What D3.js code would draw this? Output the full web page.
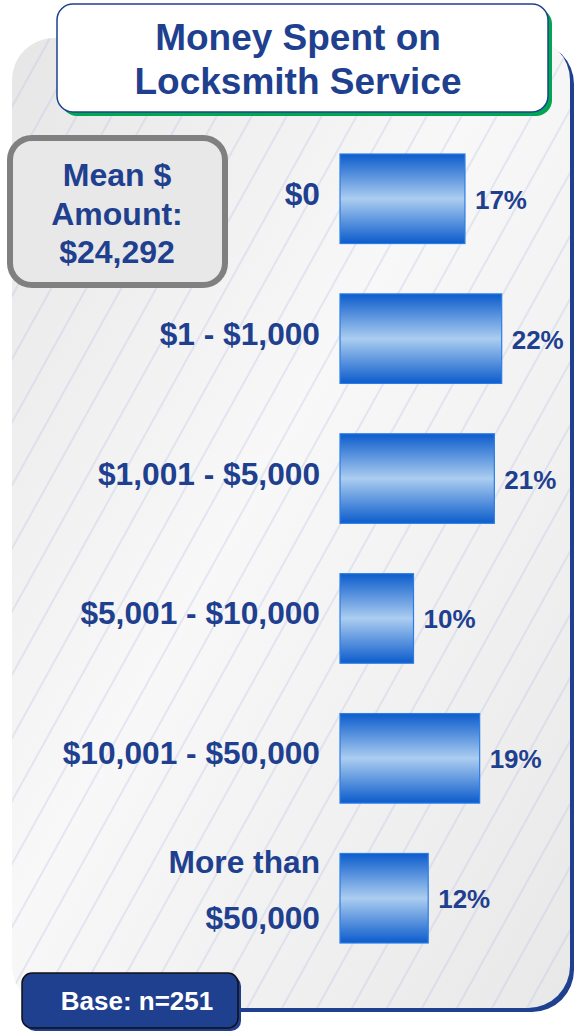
<!DOCTYPE html>
<html lang="en">

<head>
  <meta charset="utf-8">
  <script src='https://d3js.org/d3.v7.min.js'></script>
  <style>
    body { margin: 0; background: #ffffff; }
    text { font-family: "Liberation Sans", Arial, sans-serif; font-weight: bold; }
  </style>
</head>

<body>
  <script>

    // chart data
    var categories = ["$0", "$1 - $1,000", "$1,001 - $5,000", "$5,001 - $10,000", "$10,001 - $50,000", "More than $50,000"];
    var categoryLines = [["$0"], ["$1 - $1,000"], ["$1,001 - $5,000"], ["$5,001 - $10,000"], ["$10,001 - $50,000"], ["More than", "$50,000"]];
    var shares = [17, 22, 21, 10, 19, 12];
    var titleLines = ["Money Spent on", "Locksmith Service"];
    var meanLines = ["Mean $", "Amount:", "$24,292"];
    var baseLabel = "Base: n=251";

    var width = 577;
    var height = 1034;
    var navy = "#1f3f8f";

    var svg = d3.select("body")
      .append("svg")
      .attr("width", width)
      .attr("height", height);

    var defs = svg.append("defs");

    var panelGrad = defs.append("linearGradient")
      .attr("id", "panelGrad")
      .attr("x1", "0").attr("y1", "0")
      .attr("x2", "1").attr("y2", "1");
    panelGrad.append("stop").attr("offset", "0%").attr("stop-color", "#e6e6e6");
    panelGrad.append("stop").attr("offset", "45%").attr("stop-color", "#f8f8f8");
    panelGrad.append("stop").attr("offset", "100%").attr("stop-color", "#e8e8e8");

    var barGrad = defs.append("linearGradient")
      .attr("id", "barGrad")
      .attr("x1", "0").attr("y1", "0")
      .attr("x2", "0").attr("y2", "1");
    barGrad.append("stop").attr("offset", "0%").attr("stop-color", "#0c5ccc");
    barGrad.append("stop").attr("offset", "50%").attr("stop-color", "#abcdf0");
    barGrad.append("stop").attr("offset", "100%").attr("stop-color", "#0c5ccc");

    // diagonal hatching of the panel
    var hatch = defs.append("pattern")
      .attr("id", "hatch")
      .attr("patternUnits", "userSpaceOnUse")
      .attr("width", 30.6)
      .attr("height", 20)
      .attr("patternTransform", "rotate(29)");
    hatch.append("line")
      .attr("x1", 1).attr("y1", 0)
      .attr("x2", 1).attr("y2", 20)
      .attr("stroke", "#b3bde0")
      .attr("stroke-width", 0.6);

    // background panel
    svg.append("rect")
      .attr("x", 16).attr("y", 42)
      .attr("width", 558).attr("height", 970)
      .attr("rx", 42)
      .attr("fill", navy);
    svg.append("rect")
      .attr("x", 12).attr("y", 38)
      .attr("width", 558).attr("height", 970)
      .attr("rx", 42)
      .attr("fill", "url(#panelGrad)");
    svg.append("rect")
      .attr("x", 12).attr("y", 38)
      .attr("width", 558).attr("height", 970)
      .attr("rx", 42)
      .attr("fill", "url(#hatch)");

    // title box
    svg.append("rect")
      .attr("x", 61).attr("y", 8)
      .attr("width", 491).attr("height", 108)
      .attr("rx", 16)
      .attr("fill", "#00a651");
    svg.append("rect")
      .attr("x", 57).attr("y", 4)
      .attr("width", 491).attr("height", 108)
      .attr("rx", 16)
      .attr("fill", "#ffffff")
      .attr("stroke", navy)
      .attr("stroke-width", 1.5);
    svg.selectAll(".title")
      .data(titleLines)
      .enter()
      .append("text")
      .attr("class", "title")
      .attr("x", 298)
      .attr("y", function(d, i) { return 50 + i * 44; })
      .attr("text-anchor", "middle")
      .attr("font-size", "37px")
      .attr("fill", navy)
      .text(function(d) { return d; });

    // mean box
    svg.append("rect")
      .attr("x", 10).attr("y", 138)
      .attr("width", 215).attr("height", 147)
      .attr("rx", 22)
      .attr("fill", "#e8e8e8")
      .attr("stroke", "#808080")
      .attr("stroke-width", 6);
    svg.selectAll(".mean")
      .data(meanLines)
      .enter()
      .append("text")
      .attr("class", "mean")
      .attr("x", 117)
      .attr("y", function(d, i) { return 186 + i * 38.5; })
      .attr("text-anchor", "middle")
      .attr("font-size", "32px")
      .attr("fill", navy)
      .text(function(d) { return d; });

    // scales
    var x = d3.scaleLinear()
      .domain([0, 100])
      .range([340, 340 + 735]);

    var y = d3.scaleBand()
      .domain(categories)
      .range([154, 943])
      .paddingInner(0.36)
      .paddingOuter(0);

    var g = svg.selectAll(".bar")
      .data(shares)
      .enter()
      .append("g")
      .attr("class", "bar");

    g.append("rect")
      .attr("x", x(0))
      .attr("y", function(d, i) { return y(categories[i]); })
      .attr("width", function(d) { return x(d) - x(0); })
      .attr("height", y.bandwidth())
      .attr("fill", "url(#barGrad)")
      .attr("stroke", "#2b7de6")
      .attr("stroke-width", 1.2);

    g.append("text")
      .attr("x", function(d) { return x(d) + 10; })
      .attr("y", function(d, i) { return y(categories[i]) + y.bandwidth() / 2 + 10; })
      .attr("font-size", "26px")
      .attr("fill", navy)
      .text(function(d) { return d + "%"; });

    // category labels
    g.each(function(d, i) {
      var lines = categoryLines[i];
      var mid = y(categories[i]) + y.bandwidth() / 2;
      var offsets = lines.length == 1 ? [6] : [-25, 31];
      d3.select(this).selectAll(".cat")
        .data(lines)
        .enter()
        .append("text")
        .attr("class", "cat")
        .attr("x", 320)
        .attr("y", function(t, j) { return mid + offsets[j]; })
        .attr("text-anchor", "end")
        .attr("font-size", "31.7px")
        .attr("fill", navy)
        .text(function(t) { return t; });
    });

    // base box
    svg.append("rect")
      .attr("x", 25).attr("y", 976)
      .attr("width", 216).attr("height", 55)
      .attr("rx", 10)
      .attr("fill", navy);
    svg.append("rect")
      .attr("x", 22).attr("y", 973)
      .attr("width", 216).attr("height", 55)
      .attr("rx", 10)
      .attr("fill", navy)
      .attr("stroke", "#111111")
      .attr("stroke-width", 1.5);
    svg.append("text")
      .attr("x", 137)
      .attr("y", 1010)
      .attr("text-anchor", "middle")
      .attr("font-size", "26px")
      .attr("fill", "#ffffff")
      .text(baseLabel);

  </script>

</body>

</html>
